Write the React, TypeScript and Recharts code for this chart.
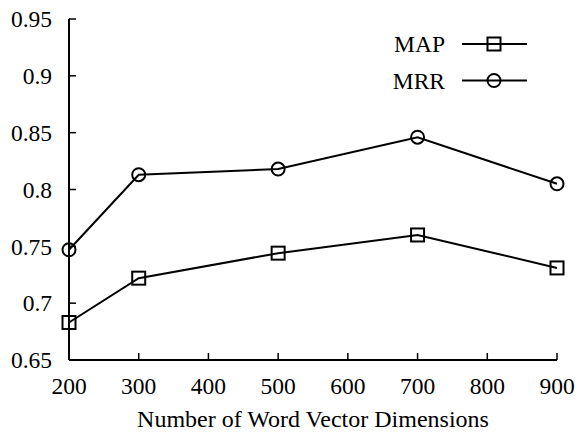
import React from 'react';
import { LineChart, Line, XAxis, YAxis, Legend } from 'recharts';

const dims = [200, 300, 500, 700, 900];
const mapValues = [0.683, 0.722, 0.744, 0.76, 0.731];
const mrrValues = [0.747, 0.813, 0.818, 0.846, 0.805];

const xTicks = [200, 300, 400, 500, 600, 700, 800, 900];
const yTicks = [0.65, 0.7, 0.75, 0.8, 0.85, 0.9, 0.95];
const xTitle = 'Number of Word Vector Dimensions';

const data = dims.map((d, i) => ({ dim: d, MAP: mapValues[i], MRR: mrrValues[i] }));

const FONT = '"Liberation Serif", "Times New Roman", serif';
const textStyle: React.CSSProperties = { fontFamily: FONT, fontSize: 23.5, fill: '#000' };

const SquareDot = (props: any) => {
    const { cx, cy } = props;
    if (cx == null || cy == null) return null;
    return <rect x={cx - 6.5} y={cy - 6.5} width={13} height={13} fill="none" stroke="#000" strokeWidth={2} />;
};

const CircleDot = (props: any) => {
    const { cx, cy } = props;
    if (cx == null || cy == null) return null;
    return <circle cx={cx} cy={cy} r={6.5} fill="none" stroke="#000" strokeWidth={2} />;
};

const fmt = (v: number) => String(+v.toFixed(2));

const XTick = (props: any) => {
    const { x, y, payload } = props;
    return (
        <text x={x} y={y} dy="0.71em" textAnchor="middle" style={textStyle}>
            {payload.value}
        </text>
    );
};

const YTick = (props: any) => {
    const { x, y, payload } = props;
    return (
        <text x={x} y={y} dy="0.35em" textAnchor="end" style={textStyle}>
            {fmt(payload.value)}
        </text>
    );
};

const XTitle = (props: any) => {
    const { x, y, width, height } = props.viewBox;
    return (
        <text x={x + width / 2} y={y + height - 5} textAnchor="middle" style={{ ...textStyle, fontSize: 24 }}>
            {xTitle}
        </text>
    );
};

const renderLegend = () => (
    <svg width={579} height={100} style={{ position: 'absolute', left: 0, top: 0 }}>
        {['MAP', 'MRR'].map((name, i) => {
            const y = 44 + i * 36.5;
            return (
                <g key={name}>
                    <text x={445} y={y} dy="0.35em" textAnchor="end" style={textStyle}>
                        {name}
                    </text>
                    <line x1={462} x2={527} y1={y} y2={y} stroke="#000" strokeWidth={2} />
                    {i === 0 ? <SquareDot cx={494} cy={y} /> : <CircleDot cx={494} cy={y} />}
                </g>
            );
        })}
    </svg>
);

export default function App() {
    return (
        <div style={{ position: 'absolute', left: 0, top: 0, width: 579, height: 432, background: '#fff' }}>
            <LineChart width={579} height={432} data={data} margin={{ top: 19, right: 22, left: 0, bottom: 0 }}>
                <XAxis
                    dataKey="dim"
                    type="number"
                    domain={[200, 900]}
                    ticks={xTicks}
                    tickSize={-7}
                    tickMargin={24}
                    height={72}
                    tick={<XTick />}
                    axisLine={{ stroke: '#000', strokeWidth: 2 }}
                    tickLine={{ stroke: '#000', strokeWidth: 1.5 }}
                    label={<XTitle />}
                />
                <XAxis
                    xAxisId="top"
                    orientation="top"
                    dataKey="dim"
                    type="number"
                    domain={[200, 900]}
                    ticks={xTicks}
                    tickSize={-7}
                    height={0}
                    tickFormatter={() => ''}
                    axisLine={{ stroke: '#000', strokeWidth: 2 }}
                    tickLine={{ stroke: '#000', strokeWidth: 1.5 }}
                />
                <YAxis
                    type="number"
                    domain={[0.65, 0.95]}
                    ticks={yTicks}
                    tickSize={-7}
                    tickMargin={24}
                    width={69}
                    tick={<YTick />}
                    axisLine={{ stroke: '#000', strokeWidth: 2 }}
                    tickLine={{ stroke: '#000', strokeWidth: 1.5 }}
                />
                <YAxis
                    yAxisId="right"
                    orientation="right"
                    type="number"
                    domain={[0.65, 0.95]}
                    ticks={yTicks}
                    tickSize={-7}
                    width={0}
                    tickFormatter={() => ''}
                    axisLine={{ stroke: '#000', strokeWidth: 2 }}
                    tickLine={{ stroke: '#000', strokeWidth: 1.5 }}
                />
                <Legend content={renderLegend} verticalAlign="middle" align="center" layout="horizontal" wrapperStyle={{ position: 'absolute', left: 0, top: 0, width: 579, height: 100 }} />
                <Line dataKey="MAP" stroke="#000" strokeWidth={2} dot={<SquareDot />} isAnimationActive={false} />
                <Line dataKey="MRR" stroke="#000" strokeWidth={2} dot={<CircleDot />} isAnimationActive={false} />
            </LineChart>
        </div>
    );
}
